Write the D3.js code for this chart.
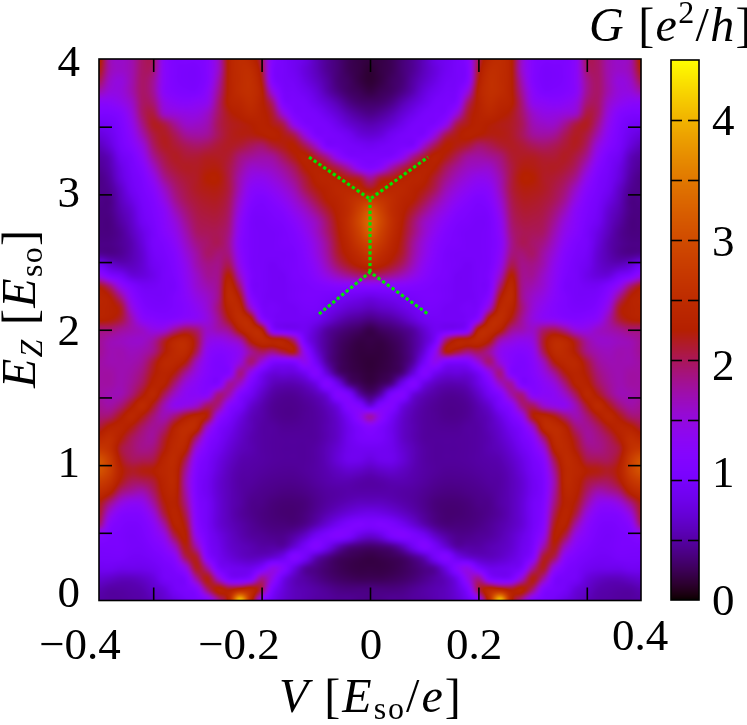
<!DOCTYPE html>
<html>
<head>
<meta charset="utf-8">
<script src="https://cdn.jsdelivr.net/npm/d3@7"></script>
<style>
  html, body { margin: 0; background: #fff; }
  #viz { position: relative; width: 747px; height: 725px; overflow: hidden; }
  #viz canvas, #viz svg { position: absolute; left: 0; top: 0; }
  text { font-family: "Liberation Serif", serif; fill: #000; }
</style>
</head>
<body>
<div id="viz"></div>
<script>
// tick positions and their (hand placed) labels
const vTicks = [-0.4, -0.2, 0, 0.2, 0.4]
const vLabels = ["\u22120.4", "\u22120.2", "0", "0.2", "0.4"]
const eTicks = [0.5, 1, 1.5, 2, 2.5, 3, 3.5]
const eLabels = [0, 1, 2, 3, 4]
const gTicks = [0.5, 1, 1.5, 2, 2.5, 3, 3.5, 4]
const gLabels = [0, 1, 2, 3, 4]

// green dotted guide, [V, Ez]
const guideUp = [[-0.1125, 3.275], [0, 2.965], [0.107, 3.275]]
const guideMid = [[0, 2.965], [0, 2.426]]
const guideDown = [[-0.094, 2.116], [0, 2.426], [0.107, 2.116]]

// G. rows go Ez = 4 -> 0 (step 0.08), columns V = -0.5 -> 0 (step 0.02),
// the map is mirror symmetric in V
const G = [
[2.3,1.7,1.6,1.7,1.95,1.95,1.3,1.1,1.1,1.1,1.2,1.6,2.3,2.5,2.4,2.0,1.2,1.0,.9,.8,.6,.45,.35,.25,.2,.18],
[2.2,1.7,1.6,1.7,1.95,1.9,1.3,1.1,1.05,1.05,1.2,1.6,2.3,2.5,2.5,2.1,1.15,1.0,.9,.75,.6,.45,.35,.25,.2,.15],
[2.0,1.6,1.5,1.7,1.95,1.8,1.3,1.1,1.05,1.05,1.2,1.7,2.3,2.5,2.55,2.2,1.2,1.0,.95,.8,.65,.5,.35,.28,.2,.15],
[1.7,1.5,1.5,1.7,1.95,1.8,1.3,1.15,1.1,1.1,1.3,1.8,2.3,2.5,2.55,2.3,1.5,1.05,1.0,.9,.75,.55,.4,.3,.25,.2],
[1.3,1.3,1.4,1.6,1.95,1.9,1.45,1.3,1.25,1.3,1.4,1.9,2.3,2.4,2.5,2.3,1.9,1.15,1.05,1.0,.85,.7,.55,.4,.32,.3],
[1.1,1.1,1.2,1.5,1.95,2.05,1.6,1.5,1.45,1.45,1.6,1.95,2.2,2.3,2.4,2.3,2.1,1.5,1.1,1.05,1.0,.85,.7,.55,.45,.4],
[.9,.95,1.1,1.4,1.85,2.15,2.05,1.8,1.6,1.6,1.7,2.0,2.15,2.2,2.25,2.3,2.2,2.0,1.4,1.1,1.05,1.0,.85,.7,.6,.55],
[.75,.85,1.05,1.3,1.7,2.05,2.15,2.0,1.8,1.75,1.8,2.0,2.15,2.2,2.2,2.25,2.3,2.2,2.0,1.5,1.1,1.05,1.0,.9,.75,.7],
[.6,.75,1.0,1.2,1.5,1.95,2.15,2.1,2.0,1.95,2.0,2.1,2.15,2.1,2.0,1.95,2.1,2.2,2.25,2.0,1.6,1.1,1.05,1.0,.95,.9],
[.5,.6,.9,1.05,1.35,1.8,2.05,2.15,2.1,2.1,2.15,2.15,2.1,1.9,1.8,1.75,1.8,2.0,2.2,2.3,2.1,1.8,1.35,1.1,1.05,1.05],
[.45,.55,.8,1.0,1.2,1.6,1.95,2.1,2.15,2.15,2.2,2.2,2.05,1.8,1.6,1.6,1.65,1.8,2.0,2.25,2.3,2.2,2.0,1.7,1.3,1.15],
[.4,.5,.75,.95,1.1,1.4,1.8,2.0,2.1,2.15,2.25,2.25,2.05,1.7,1.45,1.4,1.5,1.65,1.85,2.1,2.3,2.35,2.3,2.2,2.1,1.8],
[.4,.45,.65,.9,1.05,1.25,1.6,1.9,2.05,2.15,2.2,2.2,2.05,1.65,1.3,1.25,1.35,1.5,1.7,2.0,2.2,2.3,2.4,2.4,2.35,2.2],
[.4,.4,.6,.8,1.0,1.15,1.45,1.8,2.0,2.1,2.15,2.15,2.0,1.55,1.2,1.1,1.2,1.35,1.55,1.8,2.05,2.25,2.35,2.5,2.65,2.75],
[.38,.4,.55,.7,.95,1.1,1.3,1.65,1.9,2.05,2.1,2.1,1.95,1.45,1.1,1.05,1.1,1.2,1.4,1.6,1.85,2.1,2.3,2.5,2.85,3.15],
[.38,.38,.5,.65,.9,1.05,1.25,1.5,1.8,2.0,2.05,2.05,1.9,1.35,1.05,1.0,1.05,1.1,1.25,1.45,1.65,1.95,2.25,2.55,2.95,3.3],
[.38,.38,.45,.6,.8,1.0,1.2,1.4,1.7,1.95,2.0,2.0,1.85,1.3,1.05,1.0,1.0,1.05,1.15,1.35,1.6,1.9,2.2,2.5,2.85,3.2],
[.4,.4,.45,.55,.75,1.0,1.1,1.3,1.6,1.85,1.95,2.0,1.8,1.25,1.05,1.0,1.0,1.05,1.1,1.25,1.5,1.8,2.15,2.4,2.7,2.9],
[.45,.42,.45,.55,.7,.95,1.05,1.2,1.5,1.75,1.95,1.9,1.85,1.3,1.05,1.0,1.0,1.0,1.05,1.2,1.45,1.75,2.1,2.3,2.5,2.7],
[.9,.7,.6,.6,.7,.9,1.0,1.15,1.4,1.7,1.85,1.85,2.0,1.4,1.05,1.0,.95,1.0,1.05,1.15,1.35,1.65,1.95,2.15,2.3,2.4],
[1.4,1.1,.95,.75,.75,.85,1.0,1.1,1.35,1.6,1.8,1.85,2.25,1.6,1.1,1.0,.95,.95,1.05,1.1,1.25,1.45,1.65,1.8,1.9,1.95],
[2.2,1.9,1.4,1.1,.95,.95,1.0,1.05,1.3,1.55,1.7,1.85,2.4,1.9,1.1,1.0,.95,.95,1.0,1.05,1.1,1.15,1.2,1.2,1.2,1.2],
[2.35,2.25,1.85,1.3,1.05,1.0,1.0,1.1,1.25,1.45,1.6,1.85,2.45,2.2,1.25,1.0,.95,.95,1.0,1.05,1.05,1.0,.95,.9,.85,.8],
[2.35,2.3,2.15,1.5,1.15,1.05,1.05,1.1,1.2,1.35,1.55,1.9,2.35,2.4,1.6,1.05,1.0,.95,.95,1.0,1.0,.9,.8,.7,.65,.6],
[2.3,2.25,2.1,1.7,1.3,1.2,1.15,1.2,1.3,1.35,1.5,1.8,2.2,2.5,2.3,1.3,1.0,.95,.95,.95,.9,.75,.6,.5,.45,.4],
[1.9,1.9,1.8,1.7,1.6,1.45,1.5,1.8,2.0,1.9,1.6,1.7,1.85,2.3,2.5,2.3,1.2,1.0,.95,.9,.7,.5,.4,.33,.28,.22],
[1.8,1.7,1.65,1.6,1.6,1.75,2.1,2.4,2.45,2.1,1.5,1.4,1.5,1.7,2.25,2.45,2.35,2.3,1.9,1.0,.65,.45,.32,.25,.2,.2],
[1.8,1.7,1.7,1.65,1.7,1.85,2.2,2.45,2.45,2.0,1.35,1.2,1.25,1.4,1.8,2.0,1.9,2.1,2.2,1.35,.75,.45,.3,.22,.18,.18],
[1.75,1.7,1.7,1.7,1.8,2.1,2.4,2.4,2.2,1.65,1.25,1.1,1.2,1.5,1.9,1.5,1.1,1.05,1.1,1.35,.95,.5,.3,.22,.18,.16],
[1.75,1.75,1.7,1.75,1.9,2.2,2.35,2.2,1.8,1.45,1.2,1.1,1.2,1.85,1.4,.95,.75,.75,.75,.9,1.15,.75,.38,.25,.2,.17],
[1.75,1.75,1.7,1.8,2.0,2.3,2.3,1.9,1.5,1.3,1.15,1.15,1.75,1.6,1.1,.8,.6,.55,.55,.62,.8,1.15,.85,.42,.27,.2],
[1.75,1.7,1.7,1.9,2.2,2.4,2.0,1.6,1.35,1.3,1.3,1.85,1.7,1.15,.9,.65,.5,.45,.45,.5,.58,.75,1.15,1.05,.55,.35],
[1.8,1.75,1.9,2.2,2.45,2.15,1.7,1.4,1.45,1.6,1.95,1.85,1.25,1.0,.7,.55,.45,.42,.42,.45,.5,.6,.8,1.15,1.1,.75],
[1.9,1.95,2.2,2.4,2.2,1.9,1.7,1.9,2.2,2.35,2.2,1.4,1.05,.8,.6,.52,.45,.42,.42,.45,.48,.55,.68,.95,1.3,1.7],
[2.1,2.3,2.35,2.2,1.95,1.8,1.9,2.3,2.5,2.4,1.6,1.1,.9,.7,.58,.5,.48,.45,.45,.46,.48,.55,.65,.85,1.05,1.2],
[2.4,2.5,2.25,2.0,1.85,1.8,2.1,2.4,2.45,1.9,1.25,1.0,.8,.65,.55,.5,.48,.47,.47,.47,.48,.55,.65,.85,1.0,1.05],
[2.7,2.55,2.1,1.95,1.85,1.9,2.2,2.45,2.3,1.5,1.1,.9,.72,.6,.55,.5,.48,.47,.47,.47,.5,.58,.7,.85,.9,.9],
[3.1,2.75,2.2,2.0,2.0,2.05,2.35,2.45,2.0,1.25,1.0,.8,.65,.55,.52,.5,.48,.47,.47,.47,.5,.58,.72,.85,.85,.78],
[3.1,2.8,2.3,2.15,2.2,2.25,2.4,2.4,1.8,1.15,.95,.75,.6,.52,.5,.48,.46,.45,.45,.47,.5,.55,.62,.68,.65,.6],
[2.8,2.6,2.2,2.0,2.0,2.1,2.35,2.4,1.7,1.1,.9,.7,.58,.5,.48,.45,.43,.42,.42,.44,.48,.52,.55,.55,.52,.5],
[2.5,2.3,1.9,1.75,1.7,1.95,2.3,2.35,1.75,1.1,.9,.7,.58,.5,.45,.42,.4,.38,.38,.4,.44,.48,.5,.52,.52,.52],
[2.2,1.85,1.5,1.35,1.4,1.75,2.2,2.3,1.85,1.15,.95,.72,.58,.5,.42,.4,.36,.34,.34,.36,.42,.48,.53,.58,.62,.62],
[2.1,1.5,1.2,1.15,1.2,1.5,2.05,2.35,2.0,1.2,.95,.72,.58,.48,.42,.38,.35,.33,.33,.37,.45,.55,.65,.75,.82,.85],
[1.9,1.25,1.1,1.05,1.1,1.3,1.75,2.3,2.15,1.25,.95,.72,.6,.52,.45,.4,.37,.36,.36,.42,.55,.72,.9,1.05,1.1,1.05],
[1.25,1.1,1.05,1.0,1.05,1.2,1.45,2.05,2.25,1.4,1.0,.8,.65,.55,.48,.45,.42,.42,.5,.65,.9,1.05,1.15,1.05,.8,.7],
[1.05,1.05,1.05,1.0,1.0,1.1,1.25,1.65,2.2,1.7,1.05,.85,.68,.6,.55,.5,.5,.5,.7,.95,1.15,.9,.6,.42,.35,.32],
[1.0,1.0,1.0,.95,.95,1.0,1.1,1.3,2.0,2.1,1.2,.9,.75,.65,.6,.62,.7,.85,1.15,.95,.6,.42,.3,.25,.22,.2],
[.9,.9,.85,.85,.85,.9,1.0,1.1,1.45,2.15,1.75,1.05,.9,.85,.85,1.05,1.4,1.2,.8,.5,.4,.32,.26,.22,.2,.2],
[.7,.65,.6,.6,.65,.75,.95,1.0,1.1,1.75,2.2,1.6,1.1,1.05,1.2,1.8,1.4,.85,.6,.5,.42,.35,.3,.27,.25,.25],
[.55,.5,.5,.52,.55,.65,.75,.95,1.05,1.2,1.9,2.3,2.2,2.4,2.4,2.0,1.1,.75,.6,.55,.5,.45,.4,.38,.38,.38],
[.5,.48,.48,.5,.52,.58,.68,.8,.95,1.05,1.2,1.8,2.4,4.2,2.5,1.3,.9,.7,.6,.55,.5,.48,.45,.45,.42,.4]
]

document.addEventListener("DOMContentLoaded", () => {

    const width = 747
    const height = 725
    const plot = { left: 99, right: 641, top: 59, bottom: 600.5 }
    const bar = { left: 671, right: 699, top: 60, bottom: 600 }

    const x = d3.scaleLinear().domain([-0.5, 0.5]).range([plot.left, plot.right])
    const y = d3.scaleLinear().domain([0, 4]).range([plot.bottom, plot.top])
    const g = d3.scaleLinear().domain([0, 4.5]).range([bar.bottom, bar.top])
    const t = d3.scaleLinear().domain([0, 4.5]).range([0, 1]).clamp(true)

    // position of a value inside the G table
    const colOf = d3.scaleLinear().domain([-0.5, 0]).range([0, 25])
    const rowOf = d3.scaleLinear().domain([4, 0]).range([0, 50])

    // gnuplot rgbformulae 7,5,15
    const palette = v => {
        const u = t(v)
        return [Math.sqrt(u), u * u * u, Math.max(0, Math.sin(2 * Math.PI * u))].map(c => Math.round(c * 255))
    }

    const cubic = (a, b, c, d, f) =>
        b + 0.5 * f * (c - a + f * (2 * a - 5 * b + 4 * c - d + f * (3 * (b - c) + d - a)))

    const cell = (r, c) => {
        const rr = Math.max(0, Math.min(50, r))
        let cc = c < 0 ? 0 : c
        if (cc > 25) cc = 50 - cc
        return G[rr][cc]
    }

    // smooth lookup between table entries, like pm3d interpolate
    const lookup = (v, e) => {
        const cf = colOf(-Math.abs(v))
        const rf = rowOf(e)
        const c0 = Math.floor(cf)
        const r0 = Math.floor(rf)
        const across = [-1, 0, 1, 2].map(dr =>
            cubic(cell(r0 + dr, c0 - 1), cell(r0 + dr, c0), cell(r0 + dr, c0 + 1), cell(r0 + dr, c0 + 2), cf - c0))
        return cubic(across[0], across[1], across[2], across[3], rf - r0)
    }

    const container = d3.select("#viz")

    const canvas = container.append("canvas")
        .attr("width", width)
        .attr("height", height)
    const ctx = canvas.node().getContext("2d")

    // heat map
    const pw = Math.round(plot.right - plot.left)
    const ph = Math.round(plot.bottom - plot.top)
    const img = ctx.createImageData(pw, ph)
    for (let py = 0; py < ph; py++) {
        for (let px = 0; px < pw; px++) {
            const rgb = palette(lookup(x.invert(plot.left + px + 0.5), y.invert(plot.top + py + 0.5)))
            const k = 4 * (py * pw + px)
            img.data[k] = rgb[0]
            img.data[k + 1] = rgb[1]
            img.data[k + 2] = rgb[2]
            img.data[k + 3] = 255
        }
    }
    ctx.putImageData(img, plot.left, plot.top)

    // colour bar
    for (let py = bar.top; py < bar.bottom; py++) {
        const rgb = palette(g.invert(py + 0.5))
        ctx.fillStyle = d3.rgb(rgb[0], rgb[1], rgb[2]).formatHex()
        ctx.fillRect(bar.left, py, bar.right - bar.left, 1)
    }

    const svg = container.append("svg")
        .attr("width", width)
        .attr("height", height)

    const tickStyle = sel => {
        sel.selectAll(".domain").attr("stroke", "none")
        sel.selectAll(".tick line").attr("stroke", "#000").attr("stroke-width", 1.6)
    }

    svg.append("g").attr("transform", `translate(0,${plot.bottom})`)
        .call(d3.axisBottom(x).tickValues(vTicks).tickSize(-13).tickFormat("")).call(tickStyle)
    svg.append("g").attr("transform", `translate(0,${plot.top})`)
        .call(d3.axisTop(x).tickValues(vTicks).tickSize(-13).tickFormat("")).call(tickStyle)
    svg.append("g").attr("transform", `translate(${plot.left},0)`)
        .call(d3.axisLeft(y).tickValues(eTicks).tickSize(-13).tickFormat("")).call(tickStyle)
    svg.append("g").attr("transform", `translate(${plot.right},0)`)
        .call(d3.axisRight(y).tickValues(eTicks).tickSize(-13).tickFormat("")).call(tickStyle)

    svg.append("rect")
        .attr("x", plot.left).attr("y", plot.top)
        .attr("width", plot.right - plot.left).attr("height", plot.bottom - plot.top)
        .attr("fill", "none").attr("stroke", "#000").attr("stroke-width", 1.6)

    // green guide
    const line = d3.line().x(d => x(d[0])).y(d => y(d[1]))
    svg.selectAll("path.guide")
        .data([guideUp, guideMid, guideDown])
        .enter()
        .append("path")
        .attr("class", "guide")
        .attr("d", line)
        .attr("fill", "none")
        .attr("stroke", "#00e600")
        .attr("stroke-width", 3.2)
        .attr("stroke-dasharray", "3.2 2.6")

    // colour bar ticks, a stub from each side
    svg.append("g").attr("transform", `translate(${bar.left},0)`)
        .call(d3.axisLeft(g).tickValues(gTicks).tickSize(-11).tickFormat("")).call(tickStyle)
    svg.append("g").attr("transform", `translate(${bar.right},0)`)
        .call(d3.axisRight(g).tickValues(gTicks).tickSize(-11).tickFormat("")).call(tickStyle)
    svg.append("rect")
        .attr("x", bar.left).attr("y", bar.top)
        .attr("width", bar.right - bar.left).attr("height", bar.bottom - bar.top)
        .attr("fill", "none").attr("stroke", "#000").attr("stroke-width", 1.6)

    // tick labels sit off the ticks in the original, so they get their own scales
    const size = 45
    const vLabelX = d3.scaleLinear().domain(vTicks).range([80, 239, 371, 474, 640])
    const vLabelY = d3.scaleOrdinal().domain(vTicks).range([659, 659, 659, 659, 650])
    svg.selectAll("text.vlab").data(vTicks).enter().append("text")
        .attr("class", "vlab")
        .attr("x", d => vLabelX(d))
        .attr("y", d => vLabelY(d))
        .attr("text-anchor", "middle")
        .attr("font-size", size)
        .text((d, i) => vLabels[i])

    const eLabelY = d3.scaleLinear().domain(eLabels).range([607, 477, 345, 207, 76])
    svg.selectAll("text.elab").data(eLabels).enter().append("text")
        .attr("class", "elab")
        .attr("x", 80)
        .attr("y", d => eLabelY(d))
        .attr("text-anchor", "end")
        .attr("font-size", size)
        .text(d => d)

    const gLabelY = d3.scaleLinear().domain(gLabels).range([615, 487, 380, 256, 135])
    svg.selectAll("text.glab").data(gLabels).enter().append("text")
        .attr("class", "glab")
        .attr("x", 712)
        .attr("y", d => gLabelY(d))
        .attr("font-size", size)
        .text(d => d)

    // math labels out of tspans
    const labelSize = 48
    const mathLabel = (sel, parts, spacing) => {
        sel.attr("letter-spacing", spacing)
        parts.forEach(p => {
            sel.append("tspan")
                .attr("font-style", p.i ? "italic" : "normal")
                .attr("font-size", p.s || labelSize)
                .attr("dy", p.dy || 0)
                .text(p.t)
        })
    }

    mathLabel(svg.append("text").attr("x", 279).attr("y", 712), [
        { t: "V", i: true }, { t: " [" }, { t: "E", i: true },
        { t: "so", s: 32, dy: 7 }, { t: "/", dy: -7 }, { t: "e", i: true }, { t: "]" }
    ], 2)

    mathLabel(svg.append("text").attr("transform", "translate(35,388) rotate(-90)"), [
        { t: "E", i: true }, { t: "Z", i: true, s: 32, dy: 7 }, { t: " [", dy: -7 },
        { t: "E", i: true }, { t: "so", s: 32, dy: 7 }, { t: "]", dy: -7 }
    ], 1.3)

    mathLabel(svg.append("text").attr("x", 589).attr("y", 41), [
        { t: "G", i: true }, { t: " [" }, { t: "e", i: true },
        { t: "2", s: 32, dy: -18 }, { t: "/", dy: 18 }, { t: "h", i: true }, { t: "]" }
    ], 1.3)
})
</script>
</body>
</html>
